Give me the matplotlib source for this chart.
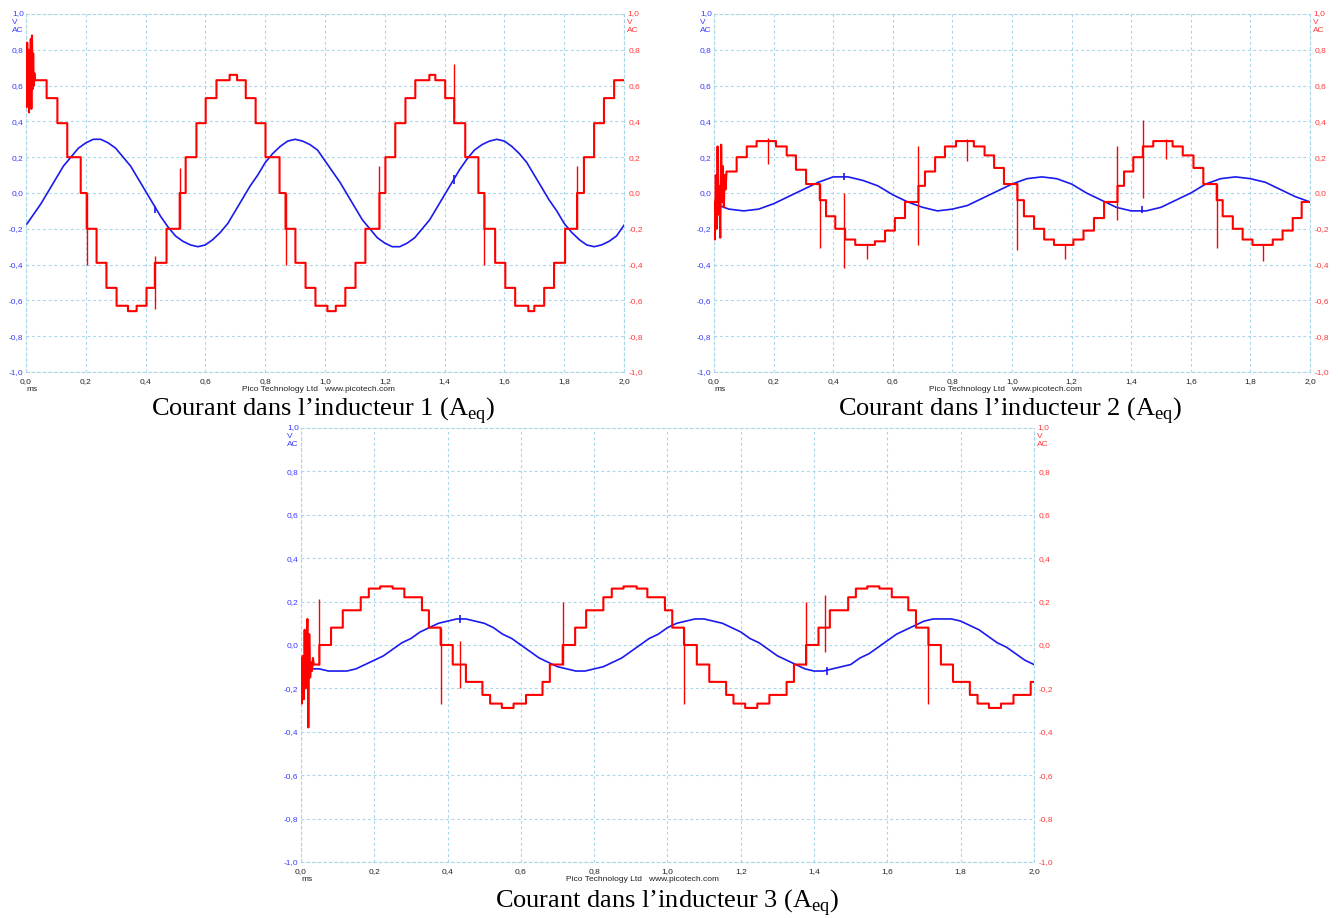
import numpy as np
import matplotlib.pyplot as plt
from matplotlib.transforms import offset_copy

plt.rcParams['font.family'] = 'Liberation Sans'
plt.rcParams['mathtext.fontset'] = 'custom'
plt.rcParams['mathtext.rm'] = 'Liberation Serif'

T_END = 2.0
fine_t = np.arange(81) * 0.025    # scope samples every 0.025 ms
coarse_t = np.arange(41) * 0.05   # every 0.05 ms

# ---------- panel 1 ----------
p1_blue = [-0.18, -0.12, -0.06, 0.01, 0.08, 0.15, 0.20, 0.25, 0.28, 0.30,
           0.30, 0.28, 0.25, 0.20, 0.15, 0.08, 0.01, -0.06, -0.13, -0.19,
           -0.24, -0.27, -0.29, -0.30, -0.29, -0.26, -0.22, -0.17, -0.10, -0.03,
           0.04, 0.10, 0.17, 0.22, 0.26, 0.29, 0.30, 0.29, 0.27, 0.24,
           0.18, 0.12, 0.06, -0.01, -0.08, -0.15, -0.20, -0.25, -0.28, -0.30,
           -0.30, -0.28, -0.25, -0.20, -0.15, -0.08, -0.01, 0.06, 0.13, 0.19,
           0.24, 0.27, 0.29, 0.30, 0.29, 0.26, 0.22, 0.17, 0.10, 0.03,
           -0.04, -0.10, -0.17, -0.22, -0.26, -0.29, -0.30, -0.29, -0.27, -0.24,
           -0.18]
p1_burst_t = [0.0, 0.002, 0.004, 0.006, 0.008, 0.010, 0.012, 0.014, 0.016,
              0.018, 0.020, 0.022, 0.024, 0.026, 0.028, 0.030]
p1_burst_v = [0.62, 0.48, 0.84, 0.52, 0.80, 0.45, 0.72, 0.55, 0.86, 0.47,
              0.88, 0.58, 0.78, 0.60, 0.67, 0.63]
p1_step_t = [0.030, 0.069, 0.105, 0.138, 0.183, 0.203, 0.236, 0.269, 0.303, 0.341,
             0.370, 0.403, 0.431, 0.470, 0.514, 0.534, 0.570, 0.601, 0.637, 0.681,
             0.706, 0.735, 0.768, 0.801, 0.848, 0.868, 0.901, 0.935, 0.968, 1.008,
             1.036, 1.068, 1.102, 1.135, 1.182, 1.202, 1.235, 1.269, 1.302, 1.349,
             1.369, 1.402, 1.432, 1.469, 1.513, 1.533, 1.569, 1.603, 1.636, 1.680,
             1.700, 1.733, 1.766, 1.803, 1.843, 1.866, 1.900, 1.933, 1.967]
p1_step_v = [0.63, 0.53, 0.39, 0.20, 0.00, -0.20, -0.39, -0.53, -0.63, -0.66,
             -0.63, -0.53, -0.39, -0.20, 0.00, 0.20, 0.39, 0.53, 0.63, 0.66,
             0.63, 0.53, 0.39, 0.20, 0.00, -0.20, -0.39, -0.53, -0.63, -0.66,
             -0.63, -0.53, -0.39, -0.20, 0.00, 0.20, 0.39, 0.53, 0.63, 0.66,
             0.63, 0.53, 0.39, 0.20, 0.00, -0.20, -0.39, -0.53, -0.63, -0.66,
             -0.63, -0.53, -0.39, -0.20, 0.00, 0.20, 0.39, 0.53, 0.63]
p1_spike_t = [0.203, 0.431, 0.514, 0.868, 1.182, 1.432, 1.533, 1.843]
p1_spike_lo = [-0.40, -0.65, -0.20, -0.40, -0.20, 0.42, -0.40, -0.20]
p1_spike_hi = [0.00, -0.35, 0.14, 0.00, 0.15, 0.72, 0.00, 0.15]
p1_glitch_t = [0.431, 1.432]
p1_glitch_lo = [-0.11, 0.05]
p1_glitch_hi = [-0.07, 0.10]

# ---------- panel 2 ----------
p2_blue = [-0.06, -0.09, -0.10, -0.09, -0.06, -0.02, 0.02, 0.06, 0.09, 0.09,
           0.07, 0.04, -0.01, -0.05, -0.08, -0.10, -0.09, -0.07, -0.03, 0.01,
           0.05, 0.08, 0.09, 0.08, 0.05, 0.00, -0.04, -0.08, -0.10, -0.10,
           -0.08, -0.04, 0.00, 0.05, 0.08, 0.09, 0.08, 0.06, 0.02, -0.02, -0.05]
p2_burst_t = [0.0, 0.003, 0.006, 0.009, 0.012, 0.015, 0.018, 0.021, 0.024,
              0.027, 0.030, 0.033, 0.036, 0.039, 0.042]
p2_burst_v = [-0.05, -0.26, 0.10, -0.20, 0.26, -0.12, 0.04, -0.25, 0.27,
              -0.05, 0.15, -0.08, 0.10, 0.02, 0.12]
p2_step_t = [0.042, 0.076, 0.110, 0.143, 0.208, 0.244, 0.275, 0.309, 0.355, 0.376,
             0.407, 0.440, 0.474, 0.540, 0.574, 0.607, 0.641, 0.686, 0.708, 0.742,
             0.775, 0.812, 0.872, 0.908, 0.940, 0.973, 1.018, 1.040, 1.074, 1.108,
             1.141, 1.206, 1.240, 1.275, 1.309, 1.354, 1.376, 1.407, 1.439, 1.474,
             1.539, 1.573, 1.609, 1.642, 1.687, 1.707, 1.741, 1.774, 1.807, 1.875,
             1.908, 1.942, 1.972]
p2_step_v = [0.12, 0.20, 0.26, 0.29, 0.26, 0.21, 0.13, 0.05, -0.04, -0.13,
             -0.20, -0.26, -0.29, -0.27, -0.21, -0.14, -0.05, 0.04, 0.12, 0.20,
             0.26, 0.29, 0.26, 0.21, 0.14, 0.05, -0.04, -0.13, -0.20, -0.26,
             -0.29, -0.26, -0.21, -0.14, -0.05, 0.04, 0.12, 0.20, 0.26, 0.29,
             0.26, 0.21, 0.14, 0.05, -0.04, -0.13, -0.20, -0.26, -0.29, -0.26,
             -0.21, -0.14, -0.05]
p2_spike_t = [0.182, 0.355, 0.437, 0.512, 0.686, 0.848, 1.018, 1.178, 1.354,
              1.439, 1.516, 1.687, 1.843]
p2_spike_lo = [0.16, -0.31, -0.42, -0.37, -0.29, 0.18, -0.32, -0.37, -0.15,
               -0.03, 0.19, -0.31, -0.38]
p2_spike_hi = [0.31, 0.05, 0.00, -0.29, 0.26, 0.30, 0.05, -0.29, 0.26,
               0.41, 0.30, 0.05, -0.29]
p2_glitch_t = [0.437, 1.435]
p2_glitch_lo = [0.07, -0.11]
p2_glitch_hi = [0.11, -0.07]

# ---------- panel 3 ----------
p3_blue = [-0.10, -0.11, -0.11, -0.12, -0.12, -0.12, -0.11, -0.09, -0.07, -0.05,
           -0.02, 0.01, 0.03, 0.06, 0.08, 0.10, 0.11, 0.12, 0.12, 0.11,
           0.10, 0.08, 0.05, 0.03, 0.00, -0.03, -0.06, -0.08, -0.10, -0.11,
           -0.12, -0.12, -0.11, -0.10, -0.08, -0.06, -0.03, 0.00, 0.03, 0.05,
           0.08, 0.10, 0.11, 0.12, 0.12, 0.11, 0.10, 0.08, 0.06, 0.03,
           0.01, -0.02, -0.05, -0.07, -0.09, -0.11, -0.12, -0.12, -0.11, -0.10,
           -0.09, -0.06, -0.04, -0.01, 0.02, 0.05, 0.07, 0.09, 0.11, 0.12,
           0.12, 0.12, 0.11, 0.09, 0.07, 0.04, 0.01, -0.01, -0.04, -0.07,
           -0.09]
p3_burst_t = [0.0, 0.0025, 0.005, 0.0075, 0.010, 0.0125, 0.015, 0.0175, 0.020,
              0.0225, 0.025, 0.0275, 0.030, 0.0325, 0.035]
p3_burst_v = [-0.06, -0.27, -0.05, -0.25, 0.07, -0.20, -0.10, 0.12, -0.38,
              0.05, -0.15, -0.08, -0.12, -0.06, -0.09]
p3_step_t = [0.035, 0.050, 0.082, 0.114, 0.163, 0.185, 0.216, 0.250, 0.282, 0.330,
             0.349, 0.381, 0.414, 0.450, 0.495, 0.516, 0.548, 0.580, 0.614, 0.659,
             0.679, 0.714, 0.748, 0.778, 0.825, 0.848, 0.880, 0.916, 0.945, 0.993,
             1.013, 1.045, 1.080, 1.114, 1.160, 1.180, 1.212, 1.245, 1.278, 1.325,
             1.345, 1.378, 1.412, 1.443, 1.493, 1.514, 1.545, 1.578, 1.612, 1.657,
             1.678, 1.712, 1.746, 1.779, 1.825, 1.846, 1.877, 1.910, 1.944, 1.991]
p3_step_v = [-0.09, 0.00, 0.08, 0.16, 0.22, 0.26, 0.27, 0.26, 0.22, 0.16,
             0.08, 0.00, -0.09, -0.17, -0.23, -0.27, -0.29, -0.27, -0.23, -0.17,
             -0.09, 0.00, 0.08, 0.16, 0.22, 0.26, 0.27, 0.26, 0.22, 0.16,
             0.08, 0.00, -0.09, -0.17, -0.23, -0.27, -0.29, -0.27, -0.23, -0.17,
             -0.09, 0.00, 0.08, 0.16, 0.22, 0.26, 0.27, 0.26, 0.22, 0.16,
             0.08, 0.00, -0.09, -0.17, -0.23, -0.27, -0.29, -0.27, -0.23, -0.17]
p3_spike_t = [0.050, 0.381, 0.434, 0.714, 1.045, 1.378, 1.430, 1.712]
p3_spike_lo = [-0.09, -0.27, -0.20, -0.09, -0.27, -0.09, -0.03, -0.27]
p3_spike_hi = [0.21, 0.08, 0.02, 0.20, 0.08, 0.20, 0.23, 0.08]
p3_glitch_t = [0.434, 1.434]
p3_glitch_lo = [0.10, -0.14]
p3_glitch_hi = [0.14, -0.10]

y_ticks = [-1.0, -0.8, -0.6, -0.4, -0.2, 0.0, 0.2, 0.4, 0.6, 0.8]
x_ticks = [0.0, 0.2, 0.4, 0.6, 0.8, 1.0, 1.2, 1.4, 1.6, 1.8, 2.0]

GRID = '#a9d6e8'
BLUE_TXT = '#3a3aff'
RED_TXT = '#ff3a3a'


def fmt(v):
    return f"{v:.1f}".replace('.', ',').replace('-0,0', '0,0')


def panel(fig, rect, bt_blue, blue, bt, bv, st, sv, kt, klo, khi, gt, glo, ghi):
    ax = fig.add_axes(rect)
    ax.set_xlim(0, T_END)
    ax.set_ylim(-1, 1)
    ax.grid(True, color=GRID, linestyle=(0, (2.5, 2.5)), lw=0.8)
    for s in ax.spines.values():
        s.set_color(GRID)
        s.set_linestyle((0, (2.5, 2.5)))
        s.set_linewidth(0.8)

    # staircase trace
    xs, ys = list(bt), list(bv)
    ends = st[1:] + [T_END]
    for a, b, v in zip(st, ends, sv):
        xs += [a, b]
        ys += [v, v]

    ax.plot(bt_blue, blue, color='#1a1aee', lw=1.2, zorder=2)
    ax.vlines(gt, glo, ghi, color='#1a1aee', lw=1.2, zorder=2)
    ax.plot(xs, ys, color='#ff0000', lw=1.5, zorder=3)
    ax.vlines(kt, klo, khi, color='#ff0000', lw=1.0, zorder=3)

    ax.set_xticks(x_ticks)
    ax.set_xticklabels([fmt(v) for v in x_ticks])
    ax.set_yticks(y_ticks)
    ax.set_yticklabels([fmt(v) for v in y_ticks])
    ax.tick_params(axis='x', length=0, pad=4, labelsize=6, labelcolor='#222222')
    ax.tick_params(axis='y', length=0, pad=2, labelsize=6, labelcolor=BLUE_TXT)

    ax2 = ax.twinx()
    ax2.set_ylim(-1, 1)
    ax2.set_yticks(y_ticks)
    ax2.set_yticklabels([fmt(v) for v in y_ticks])
    ax2.tick_params(axis='y', length=0, pad=3, labelsize=6, labelcolor=RED_TXT)
    for s in ax2.spines.values():
        s.set_visible(False)

    # "1,0 / V / AC" headers on both sides
    for side, col, dx in [(0, BLUE_TXT, -14), (1, RED_TXT, 3)]:
        for i, txt in enumerate(['1,0', 'V', 'AC']):
            tr = offset_copy(ax.get_yaxis_transform(), fig=fig,
                             x=dx, y=-8.5 * i, units='dots')
            ax.text(side, 1.0, txt, transform=tr, ha='left', va='center',
                    fontsize=6, color=col)

    tr = offset_copy(ax.transAxes, fig=fig, x=6, y=-17, units='dots')
    ax.text(0, 0, 'ms', transform=tr, ha='center', va='center',
            fontsize=6, color='#222222')
    tr = offset_copy(ax.transAxes, fig=fig, x=0, y=-17, units='dots')
    ax.text(0.361, 0, 'Pico Technology Ltd   www.picotech.com', transform=tr,
            ha='left', va='center', fontsize=6, color='#222222')
    return ax


fig = plt.figure(figsize=(13.38, 9.18), dpi=100)

panel(fig, [0.01943, 0.59477, 0.44694, 0.38998], fine_t, p1_blue,
      p1_burst_t, p1_burst_v, p1_step_t, p1_step_v,
      p1_spike_t, p1_spike_lo, p1_spike_hi,
      p1_glitch_t, p1_glitch_lo, p1_glitch_hi)
panel(fig, [0.53363, 0.59477, 0.44544, 0.38998], coarse_t, p2_blue,
      p2_burst_t, p2_burst_v, p2_step_t, p2_step_v,
      p2_spike_t, p2_spike_lo, p2_spike_hi,
      p2_glitch_t, p2_glitch_lo, p2_glitch_hi)
panel(fig, [0.22496, 0.06100, 0.54783, 0.47277], fine_t, p3_blue,
      p3_burst_t, p3_burst_v, p3_step_t, p3_step_v,
      p3_spike_t, p3_spike_lo, p3_spike_hi,
      p3_glitch_t, p3_glitch_lo, p3_glitch_hi)

captions = [("Courant dans l\u2019inducteur 1 (A$_{\\mathrm{eq}}$)", 323, 410),
            ("Courant dans l\u2019inducteur 2 (A$_{\\mathrm{eq}}$)", 1010, 410),
            ("Courant dans l\u2019inducteur 3 (A$_{\\mathrm{eq}}$)", 667, 902)]
for txt, cx, cy in captions:
    fig.text(cx / 1338, 1 - cy / 918, txt, ha='center', va='center',
             fontsize=19, family='Liberation Serif', color='black')

fig.savefig('out.png', dpi=100)
